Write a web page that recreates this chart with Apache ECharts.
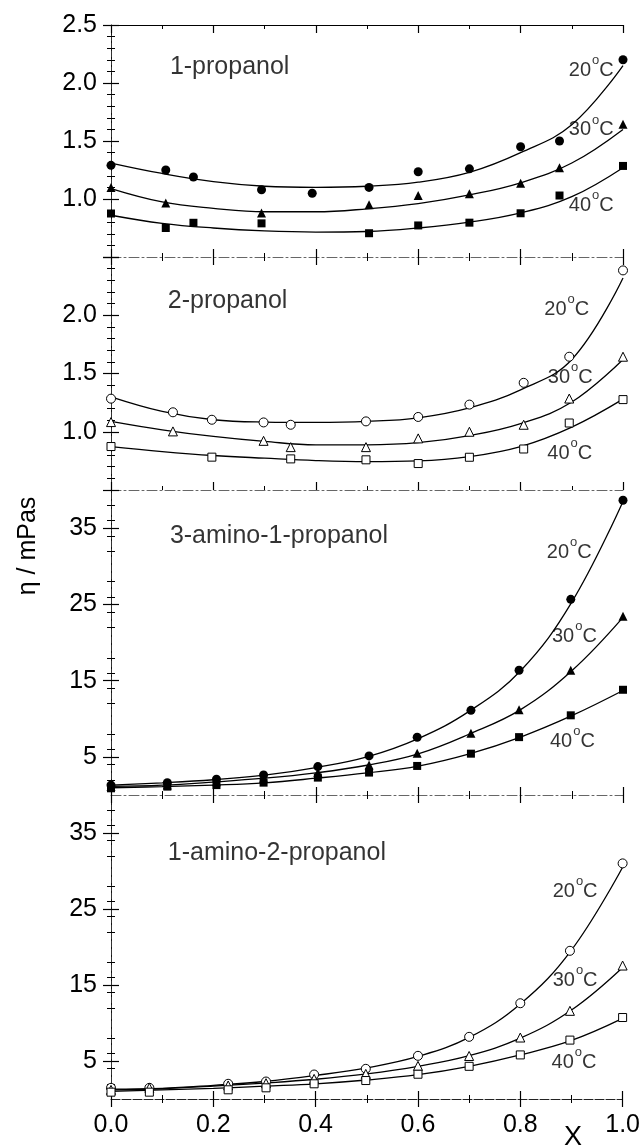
<!DOCTYPE html>
<html>
<head>
<meta charset="utf-8">
<script src="https://cdn.jsdelivr.net/npm/echarts@6/dist/echarts.min.js"></script>
<style>
html,body{margin:0;padding:0;background:#fff}
#chart{width:643px;height:1148px}
</style>
</head>
<body>
<div id="chart"></div>
<script>
// measured points, 1-propanol (filled)
const x1_20 = [0, 0.107, 0.161, 0.294, 0.393, 0.504, 0.60, 0.70, 0.80, 0.876, 1.0]
const y1_20 = [1.29, 1.25, 1.19, 1.08, 1.05, 1.10, 1.235, 1.26, 1.45, 1.50, 2.20]
const x1_30 = [0, 0.107, 0.294, 0.504, 0.60, 0.70, 0.80, 0.876, 1.0]
const y1_30 = [1.10, 0.965, 0.88, 0.95, 1.03, 1.045, 1.135, 1.27, 1.645]
const x1_40 = [0, 0.107, 0.161, 0.294, 0.504, 0.60, 0.70, 0.80, 0.876, 1.0]
const y1_40 = [0.875, 0.75, 0.795, 0.79, 0.705, 0.772, 0.796, 0.877, 1.03, 1.285]

// 2-propanol (open)
const x2_20 = [0, 0.121, 0.197, 0.298, 0.351, 0.498, 0.60, 0.70, 0.806, 0.895, 1.0]
const y2_20 = [1.284, 1.167, 1.103, 1.08, 1.06, 1.089, 1.127, 1.233, 1.42, 1.644, 2.385]
const x2_30 = [0, 0.121, 0.298, 0.351, 0.498, 0.60, 0.70, 0.806, 0.895, 1.0]
const y2_30 = [1.083, 1.003, 0.922, 0.868, 0.868, 0.943, 1.0, 1.06, 1.285, 1.644]
const x2_40 = [0, 0.197, 0.351, 0.498, 0.60, 0.70, 0.806, 0.895, 1.0]
const y2_40 = [0.873, 0.782, 0.767, 0.759, 0.727, 0.781, 0.852, 1.075, 1.276]

// 3-amino-1-propanol (filled)
const x3 = [0, 0.11, 0.206, 0.298, 0.404, 0.504, 0.598, 0.703, 0.797, 0.898, 1.0]
const y3_20 = [1.3, 1.62, 2.06, 2.63, 3.73, 5.13, 7.57, 11.1, 16.36, 25.66, 38.65]
const y3_30 = [1.1, 1.3, 1.75, 2.19, 2.94, 3.95, 5.48, 8.1, 11.18, 16.36, 23.45]
const y3_40 = [0.88, 1.1, 1.3, 1.62, 2.28, 2.94, 3.81, 5.42, 7.59, 10.45, 13.8]

// 1-amino-2-propanol (open)
const x4 = [0, 0.075, 0.229, 0.303, 0.397, 0.498, 0.60, 0.70, 0.80, 0.897, 1.0]
const y4_20 = [1.47, 1.47, 2.0, 2.3, 3.22, 3.97, 5.68, 8.18, 12.6, 19.5, 31.0]
const y4_30 = [1.2, 1.47, 1.78, 2.08, 2.65, 3.3, 4.36, 5.66, 8.09, 11.6, 17.56]
const y4_40 = [0.9, 0.9, 1.21, 1.47, 2.0, 2.43, 3.26, 4.3, 5.8, 7.75, 10.72]

// fitted curves
const cx = [0, 0.1, 0.2, 0.3, 0.4, 0.5, 0.6, 0.7, 0.8, 0.9, 1.0]
const c1_20 = [1.31, 1.22, 1.15, 1.11, 1.10, 1.11, 1.145, 1.23, 1.40, 1.64, 2.15]
const c1_30 = [1.09, 0.975, 0.92, 0.89, 0.89, 0.915, 0.96, 1.035, 1.14, 1.31, 1.60]
const c1_40 = [0.86, 0.79, 0.75, 0.725, 0.715, 0.72, 0.75, 0.80, 0.88, 1.02, 1.27]
const c2_20 = [1.30, 1.175, 1.103, 1.083, 1.08, 1.089, 1.12, 1.205, 1.36, 1.62, 2.32]
const c2_30 = [1.09, 1.017, 0.96, 0.917, 0.888, 0.888, 0.906, 0.967, 1.07, 1.255, 1.62]
const c2_40 = [0.873, 0.83, 0.796, 0.773, 0.753, 0.744, 0.75, 0.787, 0.873, 1.04, 1.28]
const c3_20 = [1.3, 1.6, 2.0, 2.6, 3.6, 5.0, 7.4, 11.0, 16.3, 25.3, 38.5]
const c3_30 = [1.15, 1.3, 1.7, 2.2, 2.9, 3.9, 5.4, 8.0, 11.2, 16.3, 23.3]
const c3_40 = [0.95, 1.1, 1.3, 1.6, 2.2, 2.9, 3.8, 5.4, 7.6, 10.4, 13.7]
const c4_20 = [1.3, 1.4, 1.8, 2.3, 3.1, 4.1, 5.6, 8.1, 12.5, 19.6, 30.5]
const c4_30 = [1.2, 1.35, 1.7, 2.1, 2.6, 3.3, 4.3, 5.7, 8.0, 11.7, 17.3]
const c4_40 = [1.0, 1.2, 1.4, 1.7, 2.0, 2.5, 3.2, 4.3, 5.8, 7.7, 10.6]

const titles = ['1-propanol', '2-propanol', '3-amino-1-propanol', '1-amino-2-propanol']
const temps = ['20', '30', '40']
const amineTicks = [5, 15, 25, 35]

const FONT = '"Liberation Sans", Arial, sans-serif'
const shapes = ['circle', 'triangle', 'rect']
const sizes = [9, 9, 8]

const panels = [
  {open:false, pts:[[x1_20,y1_20],[x1_30,y1_30],[x1_40,y1_40]], curves:[c1_20,c1_30,c1_40]},
  {open:true,  pts:[[x2_20,y2_20],[x2_30,y2_30],[x2_40,y2_40]], curves:[c2_20,c2_30,c2_40]},
  {open:false, pts:[[x3,y3_20],[x3,y3_30],[x3,y3_40]], curves:[c3_20,c3_30,c3_40]},
  {open:true,  pts:[[x4,y4_20],[x4,y4_30],[x4,y4_40]], curves:[c4_20,c4_30,c4_40]},
]

// where the texts sit, in data units of each panel
const notes = [
  {title:[0.115, 2.14], t:[[0.982, 2.11], [0.982, 1.595], [0.982, 0.948]]},
  {title:[0.111, 2.123], t:[[0.934, 2.05], [0.941, 1.463], [0.94, 0.816]]},
  {title:[0.115, 34.0], t:[[0.939, 31.8], [0.949, 20.8], [0.945, 7.0]]},
  {title:[0.111, 32.3], t:[[0.951, 27.3], [0.951, 15.6], [0.949, 4.84]]},
]

const grids = [
  {left:111, right:20, top:25, height:232},
  {left:111, right:20, top:257, height:233},
  {left:111, right:20, top:490, height:305},
  {left:111, right:20, top:795, height:304},
]

function pairs(xs, ys){
  return xs.map((x, i) => [x, ys[i]])
}

const xAxis = []
const yAxis = []
const series = []

grids.forEach((g, i) => {
  const last = i === grids.length - 1
  // bottom
  xAxis.push({
    type:'value', gridIndex:i, position:'bottom', min:0, max:1, interval:0.2,
    axisLine:{show:true, lineStyle:{color:last ? '#222' : '#666', width:1, type:last ? [9,2] : [10,3,2,3]}},
    axisTick:{show:true, inside:true, length:8, lineStyle:{color:'#000', width:1.2}},
    minorTick:{show:true, splitNumber:2, length:4, lineStyle:{color:'#000', width:1}},
    splitLine:{show:false},
    axisLabel:{show:last, fontSize:25, fontFamily:FONT, color:'#000', margin:14,
      formatter:v => v.toFixed(1)}
  })
  // top
  xAxis.push({
    type:'value', gridIndex:i, position:'top', min:0, max:1, interval:0.2,
    axisLine:{show:i === 0, lineStyle:{color:'#000', width:1}},
    axisTick:{show:true, inside:true, length:8, lineStyle:{color:'#000', width:1.2}},
    minorTick:{show:true, splitNumber:2, length:4, lineStyle:{color:'#000', width:1}},
    splitLine:{show:false},
    axisLabel:{show:false}
  })

  const alcohol = i < 2
  const yBase = alcohol
    ? {min:0.5, max:2.5, interval:0.5}
    : {min:0, max:40, interval:10}
  const minor = {show:true, splitNumber:5, length:4, lineStyle:{color:'#000', width:1}}
  const tick = {show:true, inside:true, length:8, lineStyle:{color:'#000', width:1.2}}
  if (!alcohol) tick.customValues = amineTicks

  const label = {
    show:true, fontSize:25, fontFamily:FONT, color:'#000', margin:14,
    formatter:v => alcohol ? v.toFixed(1) : String(v)
  }
  if (alcohol) {
    label.showMinLabel = false
    label.showMaxLabel = i === 0
  } else {
    label.customValues = amineTicks
  }

  yAxis.push(Object.assign({
    type:'value', gridIndex:i, position:'left',
    axisLine:{show:true, lineStyle:{color:'#000', width:1}},
    axisTick:tick, minorTick:minor, splitLine:{show:false}, axisLabel:label
  }, yBase))
  yAxis.push(Object.assign({
    type:'value', gridIndex:i, position:'right',
    axisLine:{show:true, lineStyle:{color:'#333', width:1, type:[6,2]}},
    axisTick:tick, minorTick:minor, splitLine:{show:false}, axisLabel:{show:false}
  }, yBase))

  const p = panels[i]
  p.curves.forEach(c => {
    series.push({
      type:'line', xAxisIndex:2 * i, yAxisIndex:2 * i,
      data:pairs(cx, c), smooth:0.4, showSymbol:false, silent:true,
      lineStyle:{color:'#000', width:1.3}, z:2
    })
  })
  p.pts.forEach((pt, k) => {
    series.push({
      type:'scatter', xAxisIndex:2 * i, yAxisIndex:2 * i,
      data:pairs(pt[0], pt[1]), symbol:shapes[k], symbolSize:sizes[k], silent:true,
      itemStyle:p.open
        ? {color:'#fff', borderColor:'#000', borderWidth:1, opacity:1}
        : {color:'#000', opacity:1},
      z:3
    })
  })

  // panel title + temperature tags
  const n = notes[i]
  series.push({
    type:'scatter', xAxisIndex:2 * i, yAxisIndex:2 * i, silent:true,
    symbolSize:1, itemStyle:{color:'transparent'},
    data:[{value:n.title}],
    label:{show:true, position:'inside', align:'left', verticalAlign:'middle',
      formatter:titles[i], fontSize:25, fontFamily:FONT, color:'#000'},
    z:4
  })
  series.push({
    type:'scatter', xAxisIndex:2 * i, yAxisIndex:2 * i, silent:true,
    symbolSize:1, itemStyle:{color:'transparent'},
    data:n.t.map((v, k) => ({value:v, t:temps[k]})),
    label:{show:true, position:'inside', align:'right', verticalAlign:'middle',
      formatter:prm => '{n|' + prm.data.t + '}{o|o}{n|C}',
      rich:{
        n:{fontSize:20, fontFamily:FONT, color:'#000'},
        o:{fontSize:13, fontFamily:FONT, color:'#000', padding:[0, 0, 20, 1]}
      }},
    z:4
  })
})

const option = {
  animation:false,
  backgroundColor:'#fff',
  grid:grids,
  xAxis:xAxis,
  yAxis:yAxis,
  series:series,
  graphic:[
    {type:'text', x:28, y:546, rotation:Math.PI / 2,
      style:{text:'η / mPas', fontSize:25, fontFamily:FONT, fill:'#000',
        align:'center', verticalAlign:'middle'}},
    {type:'text', x:573, y:1138,
      style:{text:'X', fontSize:27, fontFamily:FONT, fill:'#000',
        align:'center', verticalAlign:'middle'}}
  ]
}

const chart = echarts.init(document.getElementById('chart'))
chart.setOption(option)
</script>
</body>
</html>
